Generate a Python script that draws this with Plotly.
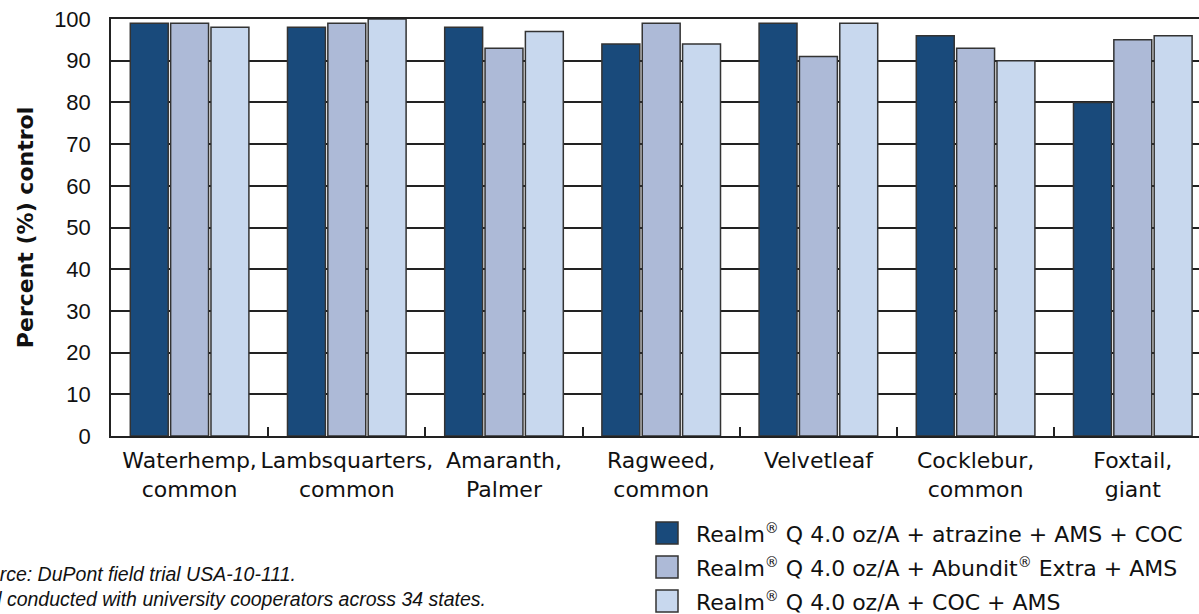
import plotly.graph_objects as go

categories = ["Waterhemp,<br>common", "Lambsquarters,<br>common", "Amaranth,<br>Palmer",
              "Ragweed,<br>common", "Velvetleaf", "Cocklebur,<br>common", "Foxtail,<br>giant"]
REG = "<sup><span style='font-size:14px'>®</span></sup>"
series_names = [
    f"Realm{REG} Q 4.0 oz/A + atrazine + AMS + COC",
    f"Realm{REG} Q 4.0 oz/A + Abundit{REG} Extra + AMS",
    f"Realm{REG} Q 4.0 oz/A + COC + AMS",
]
atrazine_ams_coc = [99, 98, 98, 94, 99, 96, 80]
abundit_extra_ams = [99, 99, 93, 99, 91, 93, 95]
coc_ams = [98, 100, 97, 94, 99, 90, 96]
series_values = [atrazine_ams_coc, abundit_extra_ams, coc_ams]
colors = ["#194a7b", "#adbad7", "#c8d8ee"]
y_ticks = [0, 10, 20, 30, 40, 50, 60, 70, 80, 90, 100]

W, H = 1199, 614
ML, MT, MB, MR = 111, 19, 178, 0
TXT = "DejaVu Sans"

fig = go.Figure()
for name, vals, col in zip(series_names, series_values, colors):
    fig.add_trace(go.Bar(x=categories, y=vals, name=name, showlegend=False,
                         marker=dict(color=col, line=dict(color="#333333", width=1.5))))

# manual legend (larger swatches)
plot_w = W - ML - MR
plot_h = H - MT - MB
def px_x(px):
    return (px - ML) / plot_w
def px_y(py):
    return (H - MB - py) / plot_h

leg_rows = [533, 567, 601]
for name, col, ry in zip(series_names, colors, leg_rows):
    fig.add_shape(type="rect", xref="paper", yref="paper",
                  x0=px_x(656), x1=px_x(678), y0=px_y(ry + 11), y1=px_y(ry - 11),
                  fillcolor=col, line=dict(color="#333333", width=1.5))
    fig.add_annotation(xref="paper", yref="paper", x=px_x(694), y=px_y(ry),
                       xanchor="left", yanchor="middle", showarrow=False,
                       text=name, font=dict(family=TXT, size=22, color="#111111"))

fig.add_annotation(xref="paper", yref="paper", x=px_x(488), y=px_y(586),
                   xanchor="right", yanchor="middle", showarrow=False, align="left",
                   text="<i>Source: DuPont field trial USA-10-111.<br>"
                        "Trial conducted with university cooperators across 34 states.</i>",
                   font=dict(family="Liberation Sans", size=19.5, color="#111111"))

fig.update_layout(
    width=W, height=H,
    margin=dict(l=ML, r=MR, t=MT, b=MB, pad=0),
    paper_bgcolor="white", plot_bgcolor="white",
    barmode="group", bargap=0.23, bargroupgap=0.06,
    font=dict(family=TXT, size=22, color="#111111"),
    xaxis=dict(range=[-0.5, -0.5 + (W - ML - MR) / 157.2], showline=True, linecolor="#222222",
               linewidth=1.5, mirror=True, ticks="inside", tickson="boundaries", ticklen=9,
               tickcolor="#222222", tickwidth=1.5, showgrid=False, tickangle=0,
               ticklabelstandoff=4,
               tickfont=dict(family=TXT, size=22, color="#111111")),
    yaxis=dict(range=[0, 100], tickvals=y_ticks, showline=True, linecolor="#222222",
               linewidth=1.5, showgrid=True, gridcolor="#222222", gridwidth=1.5,
               zeroline=False, ticks="", ticklabelstandoff=14,
               tickfont=dict(family="Liberation Sans", size=22, color="#111111"),
               title=dict(text="<b>Percent (%) control</b>", standoff=14,
                          font=dict(family=TXT, size=22, color="#111111"))),
)

fig.write_html("out.html", config={"displayModeBar": False},
               post_script="document.body.style.margin='0';")
